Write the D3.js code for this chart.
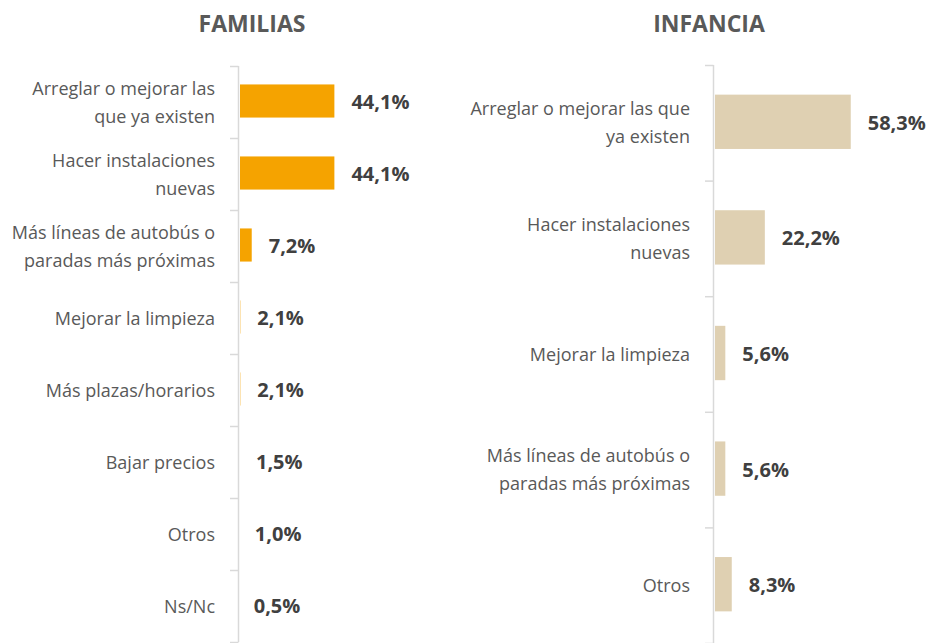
<!DOCTYPE html>
<html>
<head>
<meta charset="utf-8">
<script src="https://cdn.jsdelivr.net/npm/d3@7"></script>
<style>
    body { margin: 0; background: #fff; }
    svg { display: block; font-family: "Open Sans", sans-serif; }
</style>
</head>
<body>
<svg id="chart"></svg>
<script>
// 家庭
var familiasCategories = ['Arreglar o mejorar las\nque ya existen', 'Hacer instalaciones\nnuevas', 'Más líneas de autobús o\nparadas más próximas', 'Mejorar la limpieza', 'Más plazas/horarios', 'Bajar precios', 'Otros', 'Ns/Nc'];
var familiasValues = [44.1, 44.1, 7.2, 2.1, 2.1, 1.5, 1.0, 0.5];
// 儿童
var infanciaCategories = ['Arreglar o mejorar las que\nya existen', 'Hacer instalaciones\nnuevas', 'Mejorar la limpieza', 'Más líneas de autobús o\nparadas más próximas', 'Otros'];
var infanciaValues = [58.3, 22.2, 5.6, 5.6, 8.3];

var svg = d3.select('#chart').attr('width', 931).attr('height', 643);

/**
 * 绘制横向柱状图
 */
function drawBars(opt) {
    var data = opt.categories.map(function(c, i) { return [c, opt.values[i]]; });
    // 分类比例尺（无间距，用于刻度）
    var y = d3.scaleBand()
        .domain(opt.categories)
        .range([opt.top, opt.bottom]);
    var x = d3.scaleLinear()
        .domain([0, 100])
        .range([opt.zeroX, opt.zeroX + opt.pxPerUnit * 100]);
    var barH = y.bandwidth() * opt.ratio;
    var barStart = opt.axisX + 2;
    var g = svg.append('g');

    // 标题
    g.append('text')
        .attr('x', opt.titleX)
        .attr('y', 32)
        .attr('text-anchor', 'middle')
        .attr('font-size', 23)
        .attr('font-weight', 700)
        .attr('fill', '#595959')
        .text(opt.title);

    // 轴线
    g.append('line')
        .attr('x1', opt.axisX + 0.5).attr('x2', opt.axisX + 0.5)
        .attr('y1', opt.top).attr('y2', opt.bottom)
        .attr('stroke', '#d9d9d9').attr('stroke-width', 1.5);
    var ticks = opt.categories.map(function(c) { return y(c); }).concat([opt.bottom]);
    g.selectAll('.tick')
        .data(ticks)
        .enter()
        .append('line')
        .attr('x1', opt.axisX - 8).attr('x2', opt.axisX + 0.5)
        .attr('y1', function(d) { return d + 0.5; })
        .attr('y2', function(d) { return d + 0.5; })
        .attr('stroke', '#d9d9d9').attr('stroke-width', 1.5);

    // 柱形
    g.selectAll('rect')
        .data(data)
        .enter()
        .append('rect')
        .attr('x', barStart)
        .attr('y', function(d) { return y(d[0]) + (y.bandwidth() - barH) / 2 - 1; })
        .attr('width', function(d) { return Math.max(0, x(d[1]) - barStart); })
        .attr('height', barH)
        .attr('fill', opt.color);

    // 数值
    g.selectAll('.value')
        .data(data)
        .enter()
        .append('text')
        .attr('class', 'value')
        .attr('x', function(d) { return x(d[1]) + 17; })
        .attr('y', function(d) { return y(d[0]) + y.bandwidth() / 2 + 7; })
        .attr('font-size', 20)
        .attr('font-weight', 700)
        .attr('fill', '#404040')
        .text(function(d) { return d[1].toFixed(1).replace('.', ',') + '%'; });

    // 分类标签
    var labels = g.selectAll('.label')
        .data(data)
        .enter()
        .append('text')
        .attr('class', 'label')
        .attr('text-anchor', 'end')
        .attr('font-size', 18)
        .attr('fill', '#595959');
    labels.each(function(d) {
        var lines = d[0].split('\n');
        var cy = y(d[0]) + y.bandwidth() / 2;
        var first = cy + 6.5 - (lines.length - 1) * 28 / 2;
        d3.select(this).selectAll('tspan')
            .data(lines)
            .enter()
            .append('tspan')
            .attr('x', opt.axisX - 23)
            .attr('y', function(l, i) { return first + i * 28; })
            .text(function(l) { return l; });
    });
}

drawBars({
    title: 'FAMILIAS', titleX: 252,
    categories: familiasCategories, values: familiasValues,
    axisX: 238, top: 66, bottom: 642,
    zeroX: 235.6, pxPerUnit: 2.24, ratio: 0.46,
    color: '#f5a300'
});
drawBars({
    title: 'INFANCIA', titleX: 709,
    categories: infanciaCategories, values: infanciaValues,
    axisX: 713, top: 65, bottom: 643,
    zeroX: 712, pxPerUnit: 2.38, ratio: 0.47,
    color: '#dfd0b2'
});
</script>
</body>
</html>
